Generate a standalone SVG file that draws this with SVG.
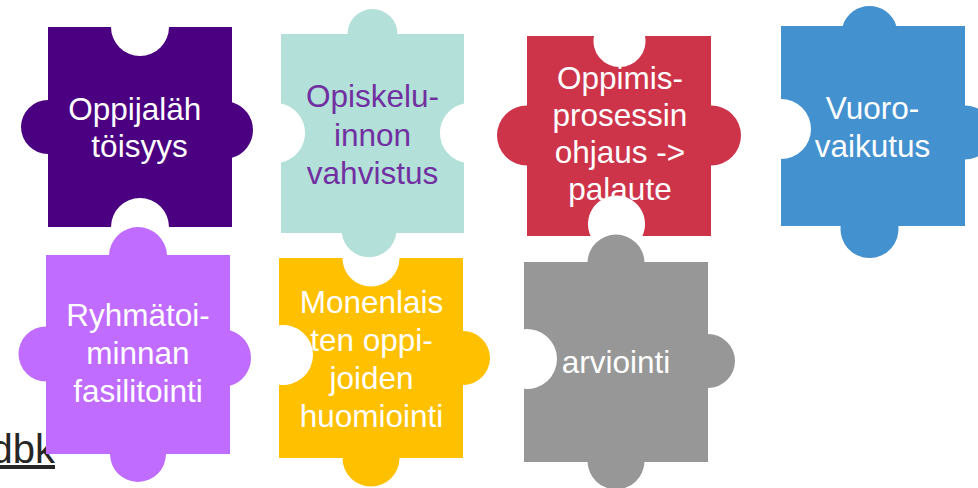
<svg xmlns="http://www.w3.org/2000/svg" width="978" height="488" viewBox="0 0 978 488">
<style>
.lbl{font-family:"Liberation Sans",Arial,sans-serif;font-size:31.5px;text-anchor:middle;fill:#ffffff}
.dark{fill:#7030A0}
.link{font-family:"Liberation Sans",Arial,sans-serif;font-size:40px;text-anchor:end;fill:#262626;text-decoration:underline}
</style>
<rect x="0" y="0" width="978" height="488" fill="#ffffff"/>
<text class="link" x="55" y="463">dbk</text>
<g id="connectors"></g>
<g id="piece-arviointi">
<path fill="#979797" d="M524,262 L587.52,262 A28.5,28.5 0 0 1 644.48,262 L708,262 L708,334 A27,27 0 0 1 708,388 L708,462 L644.48,462 A28.5,28.5 0 0 1 587.52,462 L524,462 L524,388.85 A30,30 0 1 0 524,329.15 Z"/>
<text class="lbl" x="616" y="373">arviointi</text>
</g>
<g id="piece-ryhmatoiminta">
<path fill="#BF6CFF" d="M46,255 L109.02,255 A29,29 0 0 1 166.98,255 L230,255 L230,330.13 A29,29 0 0 1 230,385.87 L230,454 L166,454 A28,28 0 0 1 110,454 L46,454 L46,381.5 A27.5,27.5 0 0 1 46,326.5 Z"/>
<text class="lbl"><tspan x="138" y="326">Ryhmätoi-</tspan><tspan x="138" y="364">minnan</tspan><tspan x="138" y="402">fasilitointi</tspan></text>
</g>
<g id="piece-monenlaisten">
<path fill="#FFC000" d="M279,258 L342.5,258 A28.5,28.5 0 0 0 399.5,258 L463,258 L463,331 A27,27 0 0 1 463,385 L463,458 L399.5,458 A28.5,28.5 0 0 1 342.5,458 L279,458 L279,384.73 A30,30 0 1 0 279,325.27 Z"/>
<text class="lbl"><tspan x="371.5" y="313">Monenlais</tspan><tspan x="371.5" y="351">ten oppi-</tspan><tspan x="371.5" y="389">joiden</tspan><tspan x="371.5" y="427">huomiointi</tspan></text>
</g>
<g id="piece-oppijalahtoisyys">
<path fill="#4B0082" d="M48,27 L111,27 A29,29 0 0 0 169,27 L232,27 L232,102.13 A29,29 0 0 1 232,157.87 L232,227 L169,227 A29,29 0 0 0 111,227 L48,227 L48,154 A27,27 0 0 1 48,100 Z"/>
<text class="lbl"><tspan x="68.2" y="120" style="text-anchor:start">Oppijaläh</tspan><tspan x="139.5" y="157">töisyys</tspan></text>
</g>
<g id="piece-opiskeluinnon">
<path fill="#B3E0D9" d="M281,34 L347.5,34 A25,25 0 0 1 397.5,34 L464,34 L464,103.6 A30,30 0 0 0 464,162.4 L464,233 L396.3,233 A27.5,27.5 0 0 1 341.7,233 L281,233 L281,162.4 A30,30 0 0 0 281,103.6 Z"/>
<text class="lbl dark"><tspan x="372.5" y="107">Opiskelu-</tspan><tspan x="372.5" y="145.5">innon</tspan><tspan x="372.5" y="183.5">vahvistus</tspan></text>
</g>
<g id="piece-oppimisprosessin">
<path fill="#CD344A" d="M527,36 L594,36 A26,26 0 1 0 645,36 L711,36 L711,105.5 A30,30 0 0 1 711,165.5 L711,236 L642.35,236 A28.5,28.5 0 1 0 590.65,236 L527,236 L527,165.5 A30,30 0 0 1 527,105.5 Z"/>
<text class="lbl"><tspan x="620" y="89">Oppimis-</tspan><tspan x="620" y="126">prosessin</tspan><tspan x="620" y="163">ohjaus -&gt;</tspan><tspan x="620" y="200">palaute</tspan></text>
</g>
<g id="piece-vuorovaikutus">
<path fill="#4491CF" d="M781,26 L842.67,26 A28,28 0 0 1 896.33,26 L965,26 L965,105.5 A27,27 0 0 1 965,159.5 L965,226 L898.34,226 A29,29 0 1 1 840.66,226 L781,226 L781,159 A30,30 0 0 0 781,99 Z"/>
<text class="lbl"><tspan x="872.5" y="119">Vuoro-</tspan><tspan x="872.5" y="156.5">vaikutus</tspan></text>
</g>
</svg>
